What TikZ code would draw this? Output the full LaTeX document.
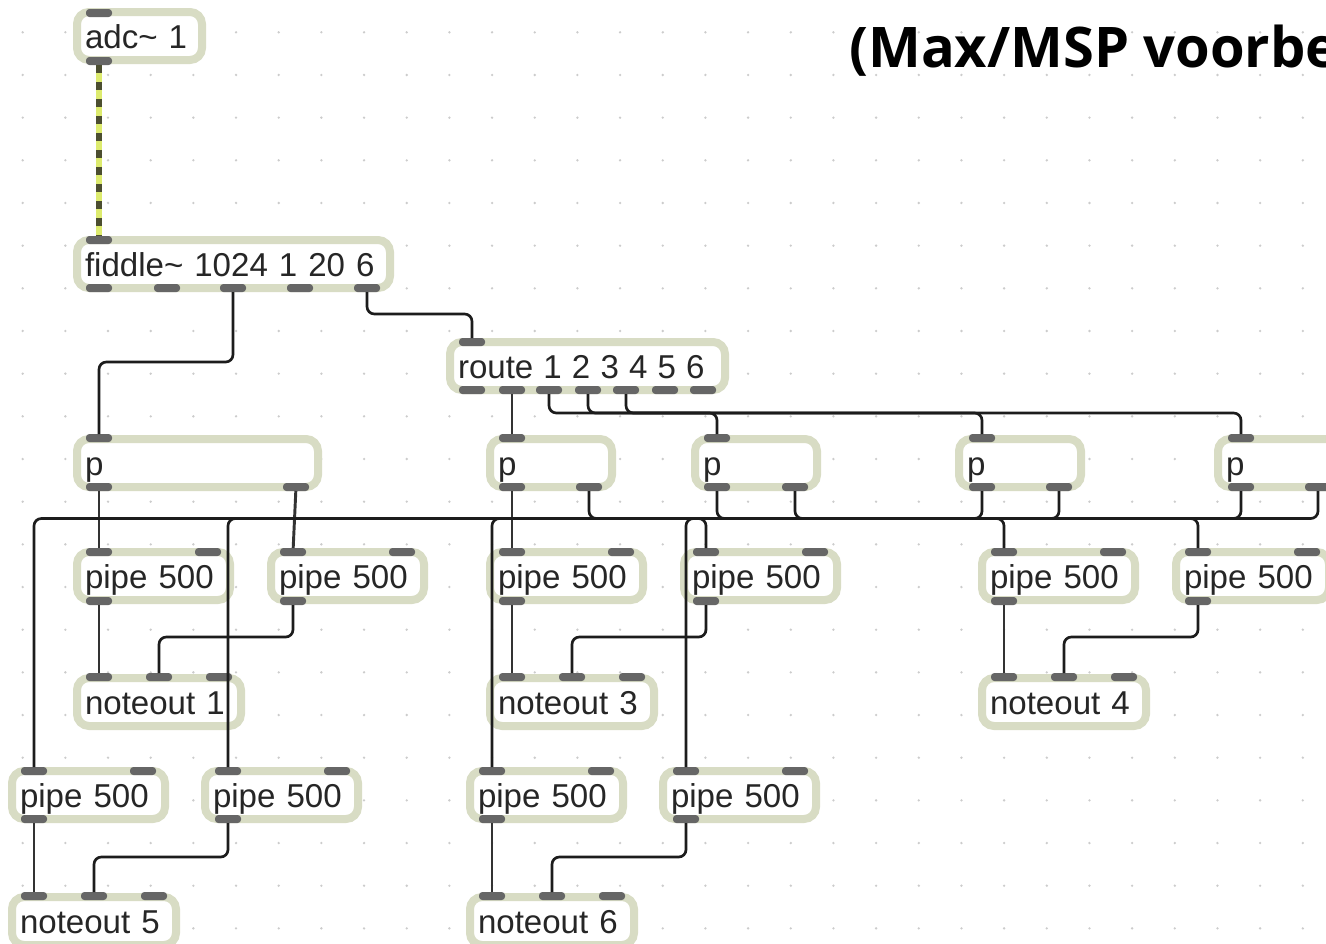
\documentclass[tikz,border=0pt]{standalone}
\usepackage{fontspec}
\setmainfont{Liberation Sans}
\newfontfamily\titlefont{Open Sans}
\usetikzlibrary{positioning}
\definecolor{maxframe}{HTML}{D8DCC4}
\definecolor{maxport}{HTML}{666666}
\definecolor{maxwire}{HTML}{1C1C1C}
\definecolor{maxsignal}{HTML}{DDEB6E}
\definecolor{maxsigdark}{HTML}{4C4E30}
\definecolor{maxdot}{HTML}{CCCCCC}
\tikzset{
  objbox/.style={rectangle,rounded corners=9pt,draw=maxframe,line width=6pt,fill=white,anchor=north west,outer sep=0pt,inner xsep=6pt,inner ysep=0pt,minimum height=36pt,align=left,text width=#1,text height=24pt,text depth=5pt,text=black!85,font=\fontsize{24.8}{30}\selectfont},
  port/.style={rectangle,rounded corners=2.5pt,fill=maxport,minimum width=19.5pt,minimum height=6pt,inner sep=0pt,outer sep=0pt},
  wire/.style={draw=maxwire,line width=2pt,rounded corners=5.5pt},
  straightwire/.style={draw=maxwire!90,line width=2.2pt},
  sigbase/.style={draw=maxsignal,line width=5pt},
  sigdash/.style={draw=maxsigdark,line width=5pt,dash pattern=on 6pt off 6.75pt},
  griddot/.style={fill=maxdot},
  titletext/.style={anchor=base west,inner sep=0pt,font=\titlefont\bfseries\fontsize{42}{50}\selectfont}
}
\begin{document}
\begin{tikzpicture}[x=0.75pt,y=-0.75pt]
\useasboundingbox[fill=white] (0,0) rectangle (1326,943);
\foreach \i in {0,...,30} \foreach \j in {0,...,21}
  \fill[griddot] ({22.7+42.67*\i},{32.3+42.67*\j}) circle (1.3);
\node[titletext] (heading) at (849,67) {(Max/MSP voorbe};
\node[objbox=81.75pt] (adc) at (77,12) {adc\char`~\ 1};
\node[objbox=222.75pt] (fiddle) at (77,240) {fiddle\char`~\ 1024 1 20 6};
\node[objbox=194.25pt] (route) at (450,342) {\spaceskip=7.6pt route 1 2 3 4 5 6};
\node[objbox=168.75pt] (p1) at (77,439) {p};
\node[objbox=79.5pt] (p2) at (490,439) {p};
\node[objbox=79.5pt] (p3) at (695,439) {p};
\node[objbox=79.5pt] (p4) at (959,439) {p};
\node[objbox=79.5pt] (p5) at (1218,439) {p};
\node[objbox=102.75pt] (pipeA) at (77,552) {pipe 500};
\node[objbox=102.75pt] (pipeB) at (271,552) {pipe 500};
\node[objbox=102.75pt] (pipeC) at (490,552) {pipe 500};
\node[objbox=102.75pt] (pipeD) at (684,552) {pipe 500};
\node[objbox=102.75pt] (pipeE) at (982,552) {pipe 500};
\node[objbox=102.75pt] (pipeF) at (1176,552) {pipe 500};
\node[objbox=111pt] (noteA) at (77,678) {noteout 1};
\node[objbox=111pt] (noteC) at (490,678) {noteout 3};
\node[objbox=111pt] (noteE) at (982,678) {noteout 4};
\node[objbox=102.75pt] (pipeG) at (12,771) {pipe 500};
\node[objbox=102.75pt] (pipeH) at (205,771) {pipe 500};
\node[objbox=102.75pt] (pipeI) at (470,771) {pipe 500};
\node[objbox=102.75pt] (pipeJ) at (663,771) {pipe 500};
\node[objbox=111pt] (noteG) at (12,897) {noteout 5};
\node[objbox=111pt] (noteI) at (470,897) {noteout 6};
% inlets and outlets
\foreach \n/\x/\y in {adcI/99/13,adcO/99/61,fidI/99/240,fidA/99/288,fidB/167/288,fidC/233/288,fidD/300/288,fidE/367/288,
  routeI/472/342,routeA/472/390,routeB/512/390,routeC/549/390,routeD/588/390,routeE/626/390,routeF/665/390,routeG/703/390,
  pAI/99/438,pAL/99/487,pAR/296/487,pBI/512/438,pBL/512/487,pBR/589/487,pCI/717/438,pCL/717/487,pCR/795/487,
  pDI/982/438,pDL/982/487,pDR/1059/487,pEI/1241/438,pEL/1241/487,pER/1318/487,
  pipeAI/99/552,pipeAJ/208/552,pipeAO/99/601,pipeBI/293/552,pipeBJ/402/552,pipeBO/293/601,
  pipeCI/512/552,pipeCJ/621/552,pipeCO/512/601,pipeDI/706/552,pipeDJ/815/552,pipeDO/706/601,
  pipeEI/1004/552,pipeEJ/1113/552,pipeEO/1004/601,pipeFI/1198/552,pipeFJ/1307/552,pipeFO/1198/601,
  noteAI/99/677,noteAJ/159/677,noteAK/219/677,noteCI/512/677,noteCJ/572/677,noteCK/632/677,noteEI/1004/677,noteEJ/1064/677,noteEK/1124/677,
  pipeGI/34/771,pipeGJ/143/771,pipeGO/34/819,pipeHI/228/771,pipeHJ/337/771,pipeHO/228/819,
  pipeII/492/771,pipeIJ/601/771,pipeIO/492/819,pipeJI/686/771,pipeJJ/795/771,pipeJO/686/819,
  noteGI/34/896,noteGJ/94/896,noteGK/154/896,noteII/492/896,noteIJ/552/896,noteIK/612/896}
  \node[port] (\n) at (\x,\y) {};
\coordinate (busTop) at (0,413);
\coordinate (busLow) at (0,518.5);
\draw[sigbase] (adcO) -- (fidI);
\draw[sigdash] (adcO) -- (fidI);
\draw[wire] (fidC.south) -- (fidC.south |- 0,362) -| (pAI.north);
\draw[wire] (fidE.south) -- (fidE.south |- 0,314) -| (routeI.north);
\draw[straightwire] (routeB) -- (pBI);
\draw[wire] (routeC.south) -- (routeC.south |- busTop) -| (pCI.north);
\draw[wire] (routeD.south) -- (routeD.south |- busTop) -| (pDI.north);
\draw[wire] (routeE.south) -- (routeE.south |- busTop) -| (pEI.north);
\draw[straightwire] (pAL) -- (pipeAI);
\draw[straightwire] (pAR) -- (pipeBI);
\draw[straightwire] (pBL) -- (pipeCI);
\draw[wire] (pBR.south) -- (pBR.south |- busLow) -| (pipeDI.north);
\draw[wire] (pCL.south) -- (pCL.south |- busLow) -| (pipeEI.north);
\draw[wire] (pCR.south) -- (pCR.south |- busLow) -| (pipeFI.north);
\draw[wire] (pDL.south) -- (pDL.south |- busLow) -| (pipeGI.north);
\draw[wire] (pDR.south) -- (pDR.south |- busLow) -| (pipeHI.north);
\draw[wire] (pEL.south) -- (pEL.south |- busLow) -| (pipeII.north);
\draw[wire] (pER.south) -- (pER.south |- busLow) -| (pipeJI.north);
\draw[straightwire] (pipeAO) -- (noteAI);
\draw[wire] (pipeBO.south) -- (pipeBO.south |- 0,637) -| (noteAJ.north);
\draw[straightwire] (pipeCO) -- (noteCI);
\draw[wire] (pipeDO.south) -- (pipeDO.south |- 0,637) -| (noteCJ.north);
\draw[straightwire] (pipeEO) -- (noteEI);
\draw[wire] (pipeFO.south) -- (pipeFO.south |- 0,637) -| (noteEJ.north);
\draw[straightwire] (pipeGO) -- (noteGI);
\draw[wire] (pipeHO.south) -- (pipeHO.south |- 0,857) -| (noteGJ.north);
\draw[straightwire] (pipeIO) -- (noteII);
\draw[wire] (pipeJO.south) -- (pipeJO.south |- 0,857) -| (noteIJ.north);
\end{tikzpicture}
\end{document}
